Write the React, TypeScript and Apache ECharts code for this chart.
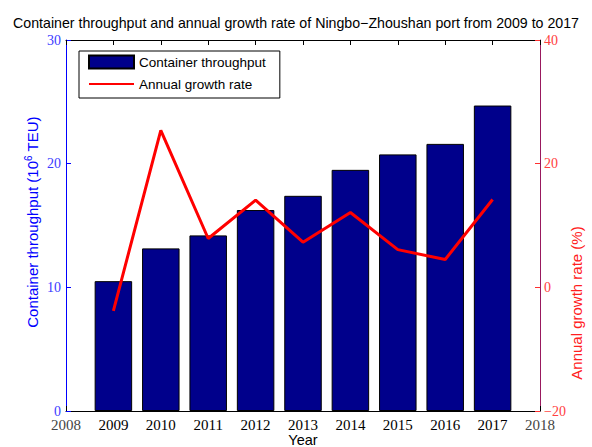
import React, { useEffect, useRef } from "react";
import * as echarts from "echarts";

const years = [2009, 2010, 2011, 2012, 2013, 2014, 2015, 2016, 2017];
const throughput = [10.5, 13.15, 14.2, 16.25, 17.4, 19.5, 20.75, 21.6, 24.7];
const growth = [-3.8, 25.4, 7.9, 14.1, 7.3, 12.1, 6.1, 4.5, 14.2];

export default function App() {
  const ref = useRef<HTMLDivElement>(null);
  useEffect(() => {
    const chart = echarts.init(ref.current!, null, { renderer: "svg" });
    const sans = "Liberation Sans";
    const serif = "Liberation Serif";
    chart.setOption({
      animation: false,
      backgroundColor: "#fff",
      title: {
        text: "Container throughput and annual growth rate of Ningbo\u2212Zhoushan port from 2009 to 2017",
        left: "center",
        top: 11,
        textStyle: { fontFamily: sans, fontSize: 14.2, fontWeight: "normal", color: "#000" },
      },
      grid: { left: 66, right: 52, top: 40, bottom: 36, containLabel: false, outerBoundsMode: "none" },
      legend: {
        orient: "vertical",
        left: 79,
        top: 51,
        padding: [3, 14, 6, 9],
        itemGap: 6,
        itemWidth: 45,
        itemHeight: 13,
        borderColor: "#000",
        borderWidth: 1,
        backgroundColor: "#fff",
        textStyle: { fontFamily: sans, fontSize: 13.5, color: "#000", lineHeight: 16 },
        data: [
          { name: "Container throughput", icon: "rect" },
          { name: "Annual growth rate", itemStyle: { opacity: 0 } },
        ],
      },
      xAxis: [
        {
          type: "value",
          min: 2008,
          max: 2018,
          interval: 1,
          position: "bottom",
          name: "Year",
          nameLocation: "middle",
          nameGap: 22,
          nameMoveOverlap: false,
          nameTextStyle: { fontFamily: sans, fontSize: 14.5, color: "#000", lineHeight: 14 },
          axisLine: { onZero: false, lineStyle: { color: "#000", width: 1 } },
          axisTick: { inside: true, length: 5, lineStyle: { color: "#000" } },
          axisLabel: {
            margin: 8,
            lineHeight: 12,
            formatter: (v: number) => (v === 2008 || v === 2018 ? "{g|" + v + "}" : "{b|" + v + "}"),
            rich: {
              g: { fontFamily: serif, fontSize: 15, color: "#444", lineHeight: 12 },
              b: { fontFamily: serif, fontSize: 15, color: "#000", lineHeight: 12 },
            },
          },
          splitLine: { show: false },
        },
        {
          type: "value",
          min: 2008,
          max: 2018,
          interval: 1,
          position: "top",
          axisLine: { show: true, onZero: false, lineStyle: { color: "#000", width: 1 } },
          axisTick: { inside: true, length: 5, lineStyle: { color: "#000" } },
          axisLabel: { show: false },
          splitLine: { show: false },
        },
      ],
      yAxis: [
        {
          type: "value",
          min: 0,
          max: 30,
          interval: 10,
          position: "left",
          axisLine: { show: true, onZero: false, lineStyle: { color: "#0000ff", width: 1 } },
          axisTick: { show: true, inside: true, length: 5, lineStyle: { color: "#0000ff" } },
          axisLabel: { fontFamily: serif, fontSize: 14, color: "#3b3bff", margin: 5, lineHeight: 11 },
          splitLine: { show: false },
        },
        {
          type: "value",
          min: -20,
          max: 40,
          interval: 20,
          position: "right",
          axisLine: { show: true, onZero: false, lineStyle: { color: "#99195e", width: 1 } },
          axisTick: { show: true, inside: true, length: 5, lineStyle: { color: "#ff3030" } },
          axisLabel: {
            fontFamily: serif,
            fontSize: 14,
            color: "#ff4040",
            margin: 4,
            lineHeight: 11,
            formatter: (v: number) => (v < 0 ? "\u2212" + Math.abs(v) : String(v)),
          },
          splitLine: { show: false },
        },
      ],
      graphic: [
        {
          type: "text",
          x: 32,
          y: 222,
          rotation: Math.PI / 2,
          style: {
            text: "{a|Container throughput (10}{s|6}{a| TEU)}",
            rich: {
              a: { fontFamily: sans, fontSize: 15, fill: "#0000ff" },
              s: { fontFamily: sans, fontSize: 10, fill: "#0000ff", verticalAlign: "top", padding: [0, 0, 8, 0] },
            },
            fill: "#0000ff",
            align: "center",
            verticalAlign: "middle",
          },
        },
        {
          type: "text",
          x: 576,
          y: 303,
          rotation: Math.PI / 2,
          style: {
            text: "Annual growth rate (%)",
            fontFamily: sans,
            fontSize: 15,
            fill: "#ff2020",
            align: "center",
            verticalAlign: "middle",
          },
        },
      ],
      series: [
        {
          name: "Container throughput",
          type: "bar",
          xAxisIndex: 0,
          yAxisIndex: 0,
          barWidth: 37.5,
          itemStyle: { color: "#00008b", borderColor: "#000", borderWidth: 1 },
          data: years.map((y, i) => [y, throughput[i]]),
        },
        {
          name: "Annual growth rate",
          type: "line",
          xAxisIndex: 0,
          yAxisIndex: 1,
          symbol: "none",
          lineStyle: { color: "#ff0000", width: 3 },
          itemStyle: { color: "#ff0000" },
          data: years.map((y, i) => [y, growth[i]]),
        },
      ],
    });
    return () => chart.dispose();
  }, []);
  return <div ref={ref} style={{ width: 592, height: 447, position: "absolute", left: 0, top: 0 }} />;
}
